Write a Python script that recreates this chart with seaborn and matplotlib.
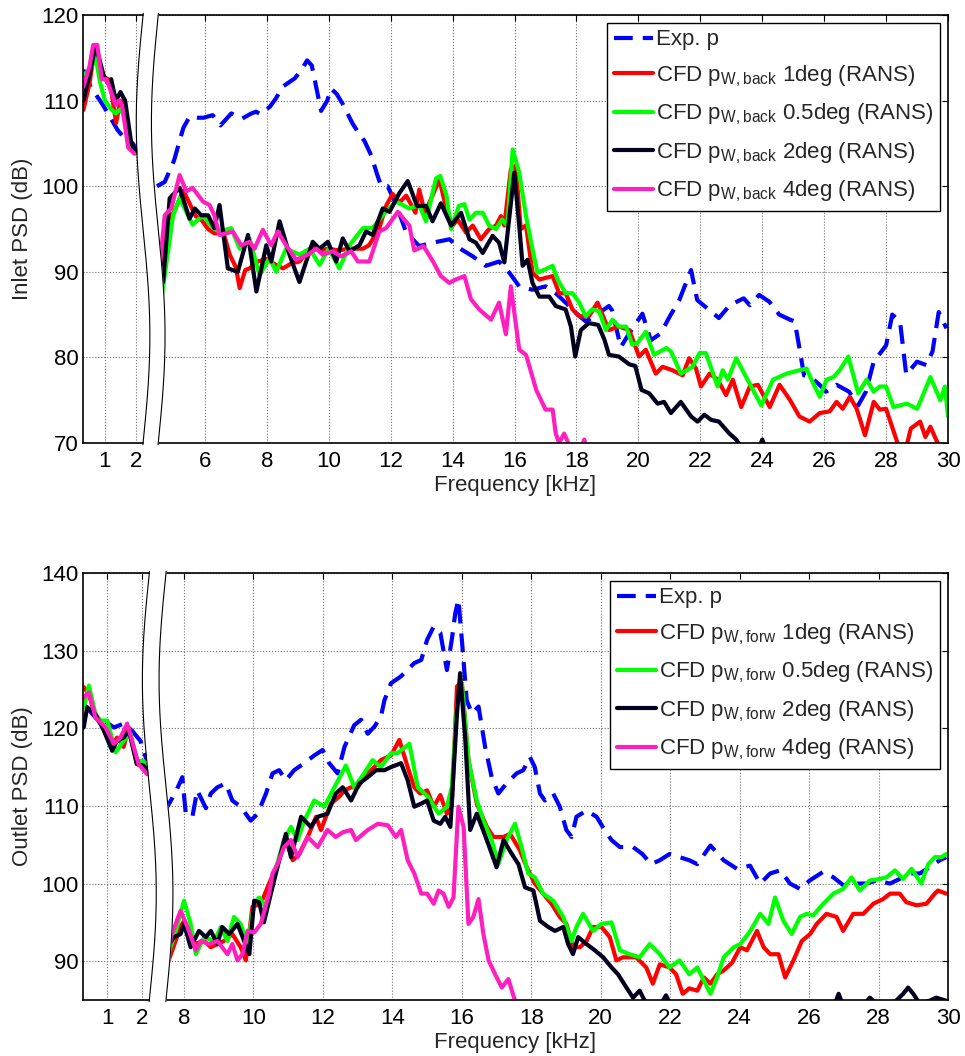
#!/usr/bin/env python3
"""Inlet / outlet PSD spectra, experiment vs RANS CFD, with a broken frequency axis."""

import numpy as np
import pandas as pd
import matplotlib
matplotlib.use("Agg")
import matplotlib.pyplot as plt
from matplotlib.lines import Line2D
import seaborn as sns

# ---------------------------------------------------------------- data (kHz, dB)
# frequencies below 3 kHz belong to the left (compressed) segment of the axis

TOP_EXP_F = [0.3, 0.55, 0.84, 1.1, 1.4, 1.65, 1.9, 2.05,
             4.45, 4.7, 5.0, 5.3, 5.5, 5.75, 5.95, 6.25, 6.5, 6.85, 7.2, 7.5, 7.65, 7.8, 8.1, 8.3, 8.5, 8.9,
             9.1, 9.3, 9.45, 9.75, 9.95, 10.07, 10.25, 10.45, 10.77, 11.0, 11.15, 11.37, 11.55, 11.69, 11.9,
             12.17, 12.5, 12.92, 13.35, 13.9, 14.2, 14.65, 15.07, 15.5, 15.83, 16.15, 16.58, 17.0, 17.33,
             17.65, 17.98, 18.3, 18.73, 19.05, 19.15, 19.43, 19.7, 20.13, 20.4, 20.72, 21.0, 21.32, 21.7,
             21.9, 22.3, 22.6, 22.95, 23.4, 23.6, 23.9, 24.23, 24.55, 24.9, 25.05, 25.2, 25.35, 25.6, 25.85,
             26.06, 26.4, 26.8, 27.1, 27.35, 27.6, 28.0, 28.2, 28.45, 28.65, 29.0, 29.3, 29.5, 29.7, 29.95]
TOP_EXP_DB = [113.6, 111.5, 110, 108.5, 106.6, 105.5, 105, 104,
              100, 100.5, 103, 106.8, 108.1, 108, 108, 108.3, 107.1, 108.5, 107.9, 108.5, 108.7, 108.4, 109.3,
              110.3, 111.6, 112.6, 113.5, 114.7, 114.1, 108.8, 110, 111.4, 110.8, 109.6, 107.3, 106, 105.3,
              103.6, 101.5, 100, 100, 97.9, 94.6, 93, 93.4, 93.8, 92.8, 91.8, 90.7, 91.2, 89.9, 88.3, 87.9,
              88.3, 87.5, 86.4, 85.2, 84.2, 85.2, 86, 85.5, 81.2, 82.8, 85.1, 82.0, 82.8, 84.7, 86.7, 90.2,
              86.7, 85.5, 84.6, 86.1, 86.9, 86.1, 87.3, 86.5, 85, 84.4, 84.2, 81.1, 77.9, 77.6, 76.8, 76, 76.8,
              76, 74.4, 76, 79.5, 81.4, 85, 84.2, 78, 79.5, 79.1, 80.7, 85.3, 83.4]

TOP_1DEG_F = [0.3, 0.5, 0.68, 0.95, 1.15, 1.36, 1.5, 1.65, 1.8, 1.95,
              4.55, 4.65, 4.8, 5.0, 5.3, 5.5, 5.7, 5.9, 6.1, 6.3, 6.6, 6.8, 7.0, 7.12, 7.3, 7.44, 7.7, 8.0,
              8.2, 8.52, 8.8, 9.05, 9.48, 9.7, 10.0, 10.3, 10.67, 11.1, 11.3, 11.63, 11.85, 12.06, 12.28,
              12.5, 12.8, 12.92, 13.1, 13.35, 13.57, 13.8, 14.0, 14.16, 14.43, 14.65, 14.91, 15.18, 15.4,
              15.56, 15.67, 15.88, 16.04, 16.2, 16.37, 16.58, 16.8, 17.23, 17.44, 17.65, 17.87, 18.09, 18.4,
              18.68, 18.95, 19.05, 19.37, 19.7, 19.9, 20.02, 20.24, 20.56, 20.78, 21.1, 21.43, 21.64, 21.86,
              22.02, 22.3, 22.56, 22.83, 23.05, 23.32, 23.6, 23.86, 24.24, 24.56, 24.9, 25.2, 25.53, 25.86,
              26.18, 26.4, 26.6, 26.83, 27.05, 27.32, 27.6, 27.8, 28.0, 28.35, 28.5, 28.65, 28.8, 29.1,
              29.27, 29.43, 29.64, 29.9]
TOP_1DEG_DB = [108.9, 112, 116.3, 112.8, 112.4, 107.4, 110, 109, 105, 103.9,
               89, 92, 96, 97, 99.5, 98, 96.5, 96, 95, 94.5, 94.5, 92, 90.5, 88.1, 90.2, 90.4, 91.2, 91.5,
               91, 90.4, 91, 91.2, 93.1, 92.5, 92.7, 92.5, 92.7, 92.7, 93.1, 95.1, 97.7, 99.1, 98.1, 98.9,
               96.9, 99.6, 96.9, 98.9, 100.8, 97.3, 95.4, 96.1, 94.6, 95.4, 93.8, 95, 95.4, 96.5, 95.4, 102,
               102.4, 95, 95.4, 89.9, 89.1, 89.5, 87.5, 87.5, 85.6, 84.8, 84.8, 86.4, 84, 83.2, 83.6, 83.2,
               81.3, 80.1, 80.9, 78.1, 78.9, 78.5, 77.9, 79.9, 78.7, 76.6, 78.1, 77.4, 75.6, 77.4, 74.2, 76.6,
               76.8, 74.2, 76.8, 75.0, 73.1, 72.5, 73.5, 73.7, 74.8, 74.0, 75.4, 74.0, 70.9, 74.8, 73.9, 74.0,
               70.2, 68.5, 69.5, 71.7, 72.5, 70.7, 71.9, 70.2, 68.5]

TOP_05DEG_F = [0.3, 0.5, 0.7, 0.85, 1.0, 1.2, 1.35, 1.5, 1.65, 1.8, 2.0,
               4.6, 4.7, 4.97, 5.18, 5.4, 5.6, 5.94, 6.26, 6.47, 6.85, 7.12, 7.44, 7.76, 8.09, 8.3, 8.62,
               9.05, 9.38, 9.7, 10.0, 10.34, 10.67, 11.1, 11.42, 11.74, 12.17, 12.6, 12.92, 13.14, 13.46,
               13.6, 13.8, 13.95, 14.2, 14.38, 14.54, 14.75, 14.97, 15.18, 15.4, 15.6, 15.77, 15.94, 16.15,
               16.37, 16.58, 16.74, 17.0, 17.23, 17.39, 17.65, 17.87, 18.09, 18.3, 18.5, 18.73, 18.95, 19.16,
               19.38, 19.6, 19.8, 19.95, 20.24, 20.5, 20.9, 21.05, 21.37, 21.75, 21.97, 22.18, 22.56, 22.72,
               22.89, 23.16, 23.48, 23.97, 24.35, 24.78, 25.2, 25.43, 25.64, 25.86, 26.08, 26.3, 26.5, 26.78,
               27.1, 27.37, 27.6, 27.8, 28.0, 28.24, 28.67, 29.0, 29.1, 29.43, 29.75, 29.9, 30.0]
TOP_05DEG_DB = [113, 113.5, 115, 112, 110, 109, 108.5, 109, 108, 105, 103.8,
                87, 89.6, 96.6, 98.6, 97, 95.5, 96.6, 95.1, 94.7, 95.1, 92.7, 93.9, 89.6, 91.6, 90, 92.7,
                92, 92.7, 90.8, 92.7, 90.4, 93.1, 95.1, 95.1, 96.6, 98.2, 97.4, 97.8, 95.9, 100.9, 101.2,
                98.9, 95.0, 97.7, 97.9, 96.1, 96.9, 96.9, 95.4, 95, 96.1, 95.4, 104.3, 101.6, 96.5, 92.6,
                89.9, 90.3, 90.7, 89.1, 87.5, 87.5, 86.4, 84.8, 85.6, 85.4, 83.2, 84.4, 83.6, 83.6, 81.5,
                81.6, 83.0, 80.3, 81.1, 80.7, 78.1, 78.9, 80.5, 80.5, 76.6, 78.5, 77.4, 79.9, 77.7, 74.4,
                77.4, 78.1, 78.5, 78.7, 77.0, 75.4, 77.4, 77.7, 78.5, 80.1, 75.8, 77.4, 76.0, 76.6, 76.6,
                74.2, 74.6, 74.0, 74.8, 77.7, 75.0, 76.6, 73.1]

TOP_2DEG_F = [0.3, 0.5, 0.7, 0.95, 1.1, 1.2, 1.35, 1.5, 1.65, 1.85, 2.0,
              4.55, 4.65, 4.86, 5.18, 5.5, 5.67, 5.88, 6.1, 6.3, 6.47, 6.74, 7.06, 7.39, 7.66, 7.98, 8.14,
              8.41, 8.73, 9.05, 9.48, 9.7, 9.97, 10.24, 10.45, 10.67, 10.99, 11.2, 11.42, 11.74, 11.96,
              12.28, 12.55, 12.85, 13.14, 13.35, 13.62, 13.95, 14.27, 14.54, 14.75, 14.97, 15.29, 15.5,
              15.67, 15.99, 16.15, 16.26, 16.42, 16.58, 16.8, 17.12, 17.33, 17.65, 17.82, 17.96, 18.14, 18.4,
              18.7, 18.9, 19.05, 19.37, 19.7, 19.9, 20.1, 20.35, 20.62, 20.83, 21.05, 21.37, 21.7, 21.91,
              22.13, 22.35, 22.6, 22.94, 23.16, 23.4, 23.8, 24.0, 24.2]
TOP_2DEG_DB = [110, 113, 116.5, 113, 112, 112.5, 110, 111, 110, 105, 104,
               92, 88.8, 98.6, 99.8, 96.2, 97.4, 96.6, 96.6, 95.1, 97.8, 90.4, 90, 94.3, 87.7, 93.1, 91.2,
               95.9, 92, 88.8, 93.5, 92.7, 93.5, 91.2, 93.9, 92.4, 93.1, 94.7, 94.3, 97.4, 97.0, 99.2, 100.6,
               97.7, 97.7, 95.9, 98.0, 95.4, 96.9, 93.8, 93.4, 92.2, 94.2, 93.4, 91.1, 101.6, 95.4, 90.7,
               91.4, 88.7, 87.1, 87.1, 86.0, 85.6, 83.6, 80.1, 83.2, 84.0, 83.8, 82.1, 80.3, 80.1, 79.2, 79.0,
               76.2, 75.8, 74.6, 74.8, 73.5, 74.8, 73.1, 72.5, 73.3, 72.7, 72.5, 71.1, 70.4, 69, 68.5, 70.4,
               68.5]

TOP_4DEG_F = [0.3, 0.5, 0.62, 0.75, 0.9, 1.05, 1.2, 1.35, 1.45, 1.55, 1.75, 1.95,
              4.55, 4.7, 4.91, 5.18, 5.4, 5.6, 5.94, 6.15, 6.3, 6.47, 6.9, 7.17, 7.44, 7.6, 7.87, 8.14, 8.35,
              8.62, 8.95, 9.32, 9.6, 9.8, 10.13, 10.4, 10.72, 10.94, 11.31, 11.63, 11.85, 12.23, 12.6, 12.76,
              13.06, 13.35, 13.62, 13.89, 14.1, 14.38, 14.59, 14.86, 15.24, 15.5, 15.72, 15.88, 16.15, 16.37,
              16.7, 17.0, 17.23, 17.33, 17.44, 17.6, 17.76, 17.9, 18.1, 18.25, 18.4]
TOP_4DEG_DB = [111.6, 114, 116.5, 116.5, 112.5, 112.5, 111, 109.5, 110, 109.5, 104.5, 103.8,
               91, 96.6, 97.4, 101.3, 99.4, 99.8, 98.2, 97.8, 96.6, 94.3, 94.7, 93.1, 93.5, 92.7, 94.9,
               93.1, 94.7, 93.1, 91.4, 92.0, 92.7, 92, 92.4, 91.8, 92.4, 91.2, 91.2, 94.7, 95.1, 97.0, 95.4,
               92.5, 93, 91.3, 89.5, 88.7, 89.1, 89.5, 86.8, 85.6, 84.4, 86.4, 82.7, 88.3, 80.9, 80.3, 76.2,
               73.9, 73.9, 71.1, 70, 71.1, 69.8, 68.5, 68.8, 70.4, 68.5]

BOT_EXP_F = [0.32, 0.66, 0.9, 1.19, 1.47, 1.71, 1.95, 2.14,
             7.4, 7.57, 7.76, 7.95, 8.05, 8.24, 8.38, 8.63, 8.77, 8.96, 9.2, 9.39, 9.63, 9.92, 10.12, 10.36,
             10.55, 10.74, 10.93, 11.17, 11.46, 11.75, 11.99, 12.18, 12.42, 12.62, 12.9, 13.1, 13.29, 13.48,
             13.67, 13.77, 13.96, 14.25, 14.63, 14.83, 15.0, 15.19, 15.38, 15.57, 15.71, 15.81, 15.9, 16.0,
             16.14, 16.29, 16.48, 16.67, 16.86, 17.05, 17.29, 17.58, 17.77, 17.96, 18.1, 18.25, 18.39,
             18.63, 18.82, 19.01, 19.16, 19.3, 19.59, 19.88, 20.11, 20.31, 20.55, 20.93, 21.2, 21.45, 21.7,
             21.98, 22.27, 22.55, 22.78, 23.16, 23.54, 23.92, 24.3, 24.59, 24.88, 25.17, 25.45, 25.74,
             26.02, 26.4, 26.7, 26.98, 27.37, 27.65, 27.94, 28.33, 28.61, 28.9, 29.19, 29.47, 29.76, 29.95]
BOT_EXP_DB = [123.1, 121.4, 121, 120.1, 120.6, 119.7, 118.4, 115.8,
              109, 110.3, 111.8, 113.7, 109, 108.6, 112, 109.7, 111.6, 112.4, 112.9, 110.7, 109.9, 108.1,
              109, 111.6, 114.2, 114.6, 113.3, 114.6, 115.5, 116.5, 117.2, 115.5, 114.2, 117.6, 120.4, 121.1,
              119.3, 120.2, 121.5, 123.6, 125.8, 126.7, 128.4, 128.8, 131.4, 133.1, 132.3, 127.5, 131.4,
              134.8, 136.6, 131.4, 123.6, 121.9, 122.8, 117.6, 113.7, 111.6, 112.9, 114.2, 114.6, 116.3, 115,
              111.6, 110.7, 111.6, 109.9, 106.9, 106, 108.6, 109.4, 108.6, 106.9, 105.6, 104.7, 104.7, 103.8,
              102.5, 103, 103.8, 103.4, 103, 102.5, 104.9, 103, 101.9, 102.3, 100, 101.3, 101.7, 100, 99.3,
              100.4, 101.5, 100.8, 99.8, 100, 100, 100.4, 100, 100.6, 101.3, 101.3, 102.1, 103, 103.4]

BOT_1DEG_F = [0.32, 0.47, 0.66, 0.9, 1.1, 1.28, 1.47, 1.62, 1.85, 2.04, 2.18,
              7.55, 7.66, 7.9, 8.0, 8.29, 8.58, 8.77, 8.96, 9.15, 9.39, 9.63, 9.78, 9.97, 10.21, 10.45, 10.69,
              10.93, 11.13, 11.32, 11.6, 11.8, 11.94, 12.23, 12.47, 12.62, 12.81, 13.0, 13.29, 13.48, 13.67,
              13.96, 14.2, 14.44, 14.63, 14.8, 15.0, 15.19, 15.38, 15.57, 15.71, 15.86, 16.0, 16.19, 16.43,
              16.72, 16.91, 17.2, 17.39, 17.67, 17.87, 18.1, 18.34, 18.58, 18.82, 19.01, 19.2, 19.4, 19.59,
              19.78, 20.02, 20.26, 20.45, 20.64, 21.02, 21.31, 21.5, 21.7, 21.98, 22.17, 22.36, 22.55, 22.78,
              22.97, 23.16, 23.35, 23.54, 23.78, 24.02, 24.21, 24.5, 24.69, 24.88, 25.12, 25.31, 25.55,
              25.79, 26.03, 26.22, 26.5, 26.79, 26.98, 27.27, 27.56, 27.85, 28.13, 28.33, 28.61, 28.8,
              29.09, 29.38, 29.62, 29.71, 29.95]
BOT_1DEG_DB = [125.3, 124.4, 121.4, 120.1, 117.6, 118.8, 117.6, 120.1, 115.4, 115, 114.1,
               90, 91.4, 94.4, 95.2, 92.2, 92.6, 91.8, 92.2, 92.6, 93.5, 91.8, 90.1, 97, 97.4, 100, 102.5,
               105.6, 103, 103.8, 106.4, 108.6, 106.9, 110.3, 111.2, 112, 112.4, 112.4, 114.2, 115, 115.9,
               116.5, 118.5, 115, 112.4, 111.6, 112, 109.9, 111.4, 109, 109.9, 125.4, 125.8, 115.9, 110.3,
               107.3, 106, 106, 106.4, 104.3, 102.1, 100, 98.7, 97.4, 95.7, 94.8, 91.8, 91.8, 92.6, 94.4,
               94.4, 93.1, 90.1, 90.5, 90.5, 89.2, 87.1, 89.6, 89.2, 88.3, 85.8, 86.5, 86.2, 87.9, 87.1,
               88.3, 88.8, 89.8, 91.8, 91.4, 93.9, 91.8, 90.9, 90.9, 87.9, 90.1, 92.6, 93.5, 94.8, 96.1,
               95.7, 93.9, 96.1, 96.1, 97.4, 98.0, 98.7, 98.7, 97.6, 97.2, 97.4, 98.7, 99.1, 98.7]

BOT_05DEG_F = [0.32, 0.47, 0.66, 0.8, 1.0, 1.24, 1.47, 1.67, 1.85, 2.04, 2.15,
               7.55, 7.71, 7.95, 8.0, 8.19, 8.34, 8.58, 8.87, 9.06, 9.25, 9.44, 9.63, 9.83, 10.02, 10.16,
               10.36, 10.6, 10.88, 11.08, 11.27, 11.46, 11.75, 12.04, 12.33, 12.66, 12.9, 13.19, 13.43, 13.67,
               13.96, 14.15, 14.49, 14.73, 15.02, 15.09, 15.33, 15.57, 15.71, 15.86, 16.0, 16.19, 16.43,
               16.62, 16.86, 17.05, 17.29, 17.53, 17.72, 17.91, 18.1, 18.34, 18.63, 18.92, 19.16, 19.3,
               19.49, 19.78, 20.02, 20.31, 20.55, 20.83, 21.12, 21.41, 21.7, 21.98, 22.27, 22.55, 22.78,
               22.97, 23.16, 23.35, 23.54, 23.83, 24.02, 24.31, 24.59, 24.83, 25.02, 25.26, 25.5, 25.74,
               25.93, 26.12, 26.41, 26.7, 26.98, 27.22, 27.46, 27.75, 28.04, 28.23, 28.47, 28.71, 28.95,
               29.23, 29.43, 29.62, 29.81, 29.95]
BOT_05DEG_DB = [122.7, 125.5, 121.8, 121, 121, 116.9, 118.4, 119.3, 115.8, 115.8, 114.5,
                91, 93.1, 97, 97.8, 94.8, 90.9, 93.1, 92.6, 94.4, 92.6, 95.7, 94.8, 92.2, 97.4, 98.2, 97,
                101.3, 105.6, 107.3, 105.6, 108.1, 110.7, 109.9, 112.4, 115.2, 112.4, 114.2, 115.9, 115,
                116.8, 116.8, 118, 112.4, 111.2, 110.7, 109, 109.9, 112.4, 122.8, 125.8, 115.9, 110.7, 108.1,
                105.6, 102.5, 105.6, 107.7, 104.7, 101.3, 100.8, 98.7, 97.8, 95.7, 92.6, 94.4, 96.1, 93.9,
                94.8, 95, 91.4, 90.9, 90.5, 92.2, 90.9, 89.2, 90.1, 88.3, 89.2, 87.5, 85.8, 87.9, 90.5, 91.8,
                92.2, 93.9, 96.1, 94.8, 98.2, 95.2, 93.5, 95.7, 96.1, 95.9, 97.4, 98.7, 99.3, 100.8, 99.1,
                100.4, 100.6, 100.8, 101.7, 100.6, 101.9, 100, 102.5, 103.4, 103.4, 103.8]

BOT_2DEG_F = [0.32, 0.42, 0.66, 0.9, 1.14, 1.28, 1.47, 1.62, 1.85, 2.04, 2.15,
              7.55, 7.71, 7.9, 8.0, 8.19, 8.43, 8.63, 8.77, 8.96, 9.1, 9.3, 9.54, 9.73, 9.88, 10.02, 10.16,
              10.3, 10.5, 10.74, 10.93, 11.08, 11.37, 11.65, 11.85, 12.13, 12.37, 12.57, 12.81, 13.05, 13.29,
              13.53, 13.77, 13.96, 14.25, 14.44, 14.63, 14.83, 15.0, 15.19, 15.38, 15.52, 15.67, 15.86,
              15.95, 16.1, 16.24, 16.43, 16.72, 17.0, 17.2, 17.44, 17.63, 17.82, 18.06, 18.25, 18.49, 18.68,
              18.92, 19.06, 19.2, 19.35, 19.59, 19.83, 20.07, 20.31, 20.5, 20.74, 20.93, 21.12, 21.31, 21.6,
              21.88, 22.1, 22.5, 23.0, 24.0, 25.0, 26.0, 26.7, 26.85, 27.0, 27.5, 27.75, 27.94, 28.3, 28.71,
              28.85, 29.0, 29.19, 29.47, 29.66, 29.95]
BOT_2DEG_DB = [120.1, 122.7, 121.8, 119.7, 117.1, 118.4, 118.8, 119.7, 115.4, 115.2, 114.5,
               92, 93.1, 93.5, 94.8, 91.8, 93.9, 93.1, 93.9, 92.2, 94.4, 93.5, 94.8, 92.6, 90.9, 97.8, 97.6,
               95.0, 98.7, 103, 106.4, 103.4, 108.6, 107.3, 108.6, 109, 111.6, 112.4, 110.7, 112.9, 113.7,
               114.6, 114.6, 115, 115.5, 113.3, 109.9, 110.3, 110.7, 108.1, 107.7, 108.6, 107.3, 121.9,
               127.1, 118.5, 106.9, 109, 105.6, 102.1, 105.6, 103.8, 102.5, 99.5, 99.1, 95.2, 94.4, 93.9,
               94.4, 92.2, 90.9, 93.1, 92.2, 91.4, 90.5, 89.2, 88.3, 86.6, 85.3, 86.2, 84.5, 83.5, 85.6, 83.5,
               83, 82, 81, 81, 82, 84, 85.8, 84, 84, 85.3, 84.5, 84, 85.8, 86.6, 85.8, 84.5, 84.9, 85.3, 84.9]

BOT_4DEG_F = [0.32, 0.47, 0.66, 0.95, 1.19, 1.38, 1.57, 1.9, 2.14,
              7.55, 7.62, 7.9, 8.1, 8.34, 8.48, 8.72, 8.96, 9.25, 9.39, 9.54, 9.68, 9.83, 10.02, 10.21,
              10.45, 10.55, 10.69, 10.88, 11.08, 11.27, 11.56, 11.85, 12.13, 12.37, 12.57, 12.81, 12.95,
              13.29, 13.58, 13.87, 14.1, 14.25, 14.44, 14.63, 14.83, 15.0, 15.19, 15.33, 15.47, 15.62, 15.76,
              15.9, 16.05, 16.19, 16.33, 16.48, 16.62, 16.77, 16.96, 17.15, 17.34, 17.53, 17.7]
BOT_4DEG_DB = [124, 124.6, 121.4, 120.1, 118, 118.8, 120.6, 115.4, 114.1,
               90, 93.1, 96.5, 94.4, 91.4, 92.6, 92.2, 92.6, 90.9, 92.2, 90.1, 90.9, 93.9, 93.7, 94.8, 98.7,
               101.3, 102.5, 104.7, 105.6, 103.4, 106, 104.7, 106.9, 106, 106.6, 106.9, 105.6, 106.9, 107.7,
               107.5, 106, 106.9, 103, 101.3, 98.7, 98.7, 97.4, 99.1, 98.7, 97, 98.2, 109.9, 107.3, 94.8,
               95.7, 98, 93.5, 90.1, 88.3, 86.6, 87.7, 84.9, 83]

SERIES = ["exp", "1deg", "0.5deg", "2deg", "4deg"]
COLORS = {"exp": "#0000ff", "1deg": "#ff0000", "0.5deg": "#00ff00",
          "2deg": "#00001e", "4deg": "#ff1fbf"}
TOP_DATA = {"exp": (TOP_EXP_F, TOP_EXP_DB), "1deg": (TOP_1DEG_F, TOP_1DEG_DB),
            "0.5deg": (TOP_05DEG_F, TOP_05DEG_DB), "2deg": (TOP_2DEG_F, TOP_2DEG_DB),
            "4deg": (TOP_4DEG_F, TOP_4DEG_DB)}
BOT_DATA = {"exp": (BOT_EXP_F, BOT_EXP_DB), "1deg": (BOT_1DEG_F, BOT_1DEG_DB),
            "0.5deg": (BOT_05DEG_F, BOT_05DEG_DB), "2deg": (BOT_2DEG_F, BOT_2DEG_DB),
            "4deg": (BOT_4DEG_F, BOT_4DEG_DB)}

TOP_TICKS = ["1", "2", "6", "8", "10", "12", "14", "16", "18", "20", "22", "24", "26", "28", "30"]
BOT_TICKS = ["1", "2", "8", "10", "12", "14", "16", "18", "20", "22", "24", "26", "28", "30"]

FS = 16
DASH = [4.5, 2.4]


def legend_labels(sub):
    return ["Exp. p"] + [
        rf"CFD p$_\mathregular{{{sub}}}$ {d} (RANS)" for d in ["1deg", "0.5deg", "2deg", "4deg"]
    ]


def long_frame(data, offset):
    """Long table with axis position: left-segment points are shifted by offset."""
    rows = []
    for name in SERIES:
        f, db = data[name]
        f = np.asarray(f, dtype=float)
        left = f < 3.0
        pos = np.where(left, f + offset, f)
        rows.append(pd.DataFrame({"series": name, "seg": np.where(left, "L", "R"),
                                  "pos": pos, "psd": db}))
    return pd.concat(rows, ignore_index=True)


def draw_break(ax, x_left, x_right, amp):
    t = np.linspace(-0.004, 1.004, 200)
    wiggle = -amp * np.sin(2 * np.pi * t)
    y = 1 - t
    tr = ax.get_xaxis_transform()
    ax.fill_betweenx(y, x_left + wiggle, x_right + wiggle, color="white", lw=0,
                     transform=tr, zorder=10, clip_on=False)
    for x0 in (x_left, x_right):
        ax.plot(x0 + wiggle, y, color="black", lw=0.8, transform=tr, zorder=11, clip_on=False)


def draw_panel(ax, data, offset, xlim, ylim, yticks, right_ticks, tick_labels,
               brk, ylabel, sub):
    df = long_frame(data, offset)
    for name in SERIES:
        for seg in ["L", "R"]:
            part = df[(df["series"] == name) & (df["seg"] == seg)]
            sns.lineplot(data=part, x="pos", y="psd", ax=ax, color=COLORS[name],
                         linewidth=3, estimator=None, sort=False, legend=False)
            if name == "exp":
                ax.lines[-1].set_dashes(DASH)

    draw_break(ax, brk[0], brk[1], brk[2])

    left_ticks = [1 + offset, 2 + offset]
    ax.set_xticks(left_ticks + right_ticks)
    ax.set_xticklabels(tick_labels)
    ax.set_yticks(yticks)
    ax.set_xlim(*xlim)
    ax.set_ylim(*ylim)
    ax.grid(True, linestyle=":", color="0.45", linewidth=0.8)
    ax.tick_params(direction="in", length=4, width=0.8, top=True, right=True,
                   labelsize=FS, colors="black")
    ax.tick_params(axis="x", pad=6)
    ax.tick_params(axis="y", pad=3)
    for sp in ax.spines.values():
        sp.set_linewidth(1.2)
        sp.set_color("black")
    ax.set_xlabel("Frequency [kHz]", fontsize=FS, labelpad=2)
    ax.set_ylabel(ylabel, fontsize=FS)
    ax.yaxis.set_label_coords(-0.058, 0.5)

    handles = []
    for name in SERIES:
        h = Line2D([], [], color=COLORS[name], lw=3)
        if name == "exp":
            h.set_dashes(DASH)
        handles.append(h)
    leg = ax.legend(handles, legend_labels(sub), loc="upper right", fontsize=FS,
                    frameon=True, fancybox=False, edgecolor="black", framealpha=1,
                    handlelength=1.75, handletextpad=0.15, borderpad=0.3,
                    labelspacing=0.58, borderaxespad=0.35)
    leg.get_frame().set_linewidth(1.0)
    leg.set_zorder(20)


def main():
    sns.set_theme(style="white")
    plt.rcParams["font.family"] = ["Liberation Sans", "DejaVu Sans"]
    plt.rcParams["mathtext.fontset"] = "custom"
    plt.rcParams["mathtext.rm"] = "Liberation Sans"

    fig = plt.figure(figsize=(9.65, 10.56), dpi=100)
    ax1 = fig.add_axes([83 / 965, 1 - 443 / 1056, 865 / 965, 428 / 1056])
    ax2 = fig.add_axes([83 / 965, 1 - 1000 / 1056, 865 / 965, 427 / 1056])

    draw_panel(ax1, TOP_DATA, 1.77, (2.06, 30), (70, 120), range(70, 121, 10),
               list(range(6, 31, 2)), TOP_TICKS, (4.0, 4.49, 0.22),
               "Inlet PSD (dB)", "W,back")
    draw_panel(ax2, BOT_DATA, 4.79, (5.09, 30), (85, 140), range(90, 141, 10),
               list(range(8, 31, 2)), BOT_TICKS, (7.0, 7.48, 0.2),
               "Outlet PSD (dB)", "W,forw")

    fig.savefig("out.png", dpi=100, facecolor="white")
    plt.close(fig)


if __name__ == "__main__":
    main()
